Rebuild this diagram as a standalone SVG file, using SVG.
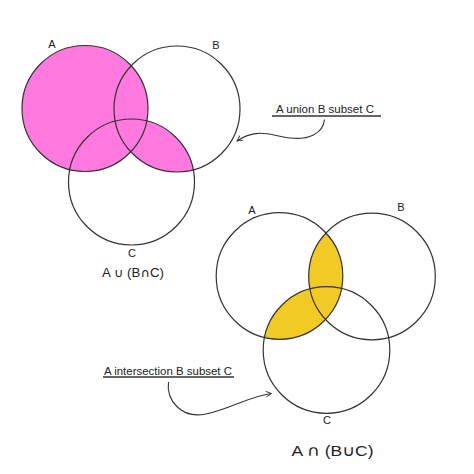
<svg xmlns="http://www.w3.org/2000/svg" width="474" height="474" viewBox="0 0 474 474">
<defs>
<style>
.c{fill:none;stroke:#333;stroke-width:1.2}
.pink{fill:#ff79de}
.yel{fill:#f2ca24}
.lbl{font-family:"Liberation Sans",Arial,sans-serif;fill:#222;text-anchor:middle}
.sym{font-family:"DejaVu Sans",sans-serif}
.conn{fill:none;stroke:#333;stroke-width:1.1}
.ul{stroke:#333;stroke-width:1.3}
</style>
<clipPath id="clipTC"><circle cx="131.5" cy="182" r="63"/></clipPath>
<clipPath id="clipBB"><circle cx="372" cy="276.5" r="63.3"/></clipPath>
<clipPath id="clipBC"><circle cx="326.5" cy="350" r="63.3"/></clipPath>
<marker id="arr" viewBox="0 0 10 10" refX="9" refY="5" markerWidth="7" markerHeight="7" orient="auto" markerUnits="userSpaceOnUse">
<path d="M1,1 L9,5 L1,9" fill="none" stroke="#333" stroke-width="1.3"/>
</marker>
</defs>
<rect width="474" height="474" fill="#fff"/>

<g id="top-venn">
<g id="top-fill">
<circle class="pink" cx="85" cy="108.5" r="63"/>
<circle class="pink" cx="177" cy="109" r="63" clip-path="url(#clipTC)"/>
</g>
<g id="topA"><circle class="c" cx="85" cy="108.5" r="63"/><text class="lbl" x="52" y="48" font-size="11">A</text></g>
<g id="topB"><circle class="c" cx="177" cy="109" r="63"/><text class="lbl" x="216" y="49" font-size="11">B</text></g>
<g id="topC"><circle class="c" cx="131.5" cy="182" r="63"/><text class="lbl" x="132" y="257" font-size="11">C</text></g>
<text class="lbl" x="133" y="277" font-size="12" textLength="62" lengthAdjust="spacingAndGlyphs">A <tspan class="sym">∪</tspan> (B<tspan class="sym">∩</tspan>C)</text>
</g>

<g id="bottom-venn">
<g id="bottom-fill">
<circle class="yel" cx="279.5" cy="276" r="63.3" clip-path="url(#clipBB)"/>
<circle class="yel" cx="279.5" cy="276" r="63.3" clip-path="url(#clipBC)"/>
</g>
<g id="botA"><circle class="c" cx="279.5" cy="276" r="63.3"/><text class="lbl" x="252" y="214" font-size="11">A</text></g>
<g id="botB"><circle class="c" cx="372" cy="276.5" r="63.3"/><text class="lbl" x="401" y="211" font-size="11">B</text></g>
<g id="botC"><circle class="c" cx="326.5" cy="350" r="63.3"/><text class="lbl" x="327" y="424" font-size="11">C</text></g>
<text class="lbl" x="332.5" y="456" font-size="15" textLength="82" lengthAdjust="spacingAndGlyphs">A <tspan class="sym">∩</tspan> (B<tspan class="sym">∪</tspan>C)</text>
</g>

<g id="note-top">
<text class="lbl" x="325" y="113" font-size="10" textLength="98" lengthAdjust="spacingAndGlyphs">A union B subset C</text>
<line class="ul" x1="272" y1="116" x2="381" y2="116"/>
</g>
<g id="note-bottom">
<text class="lbl" x="168" y="375" font-size="10" textLength="128" lengthAdjust="spacingAndGlyphs">A intersection B subset C</text>
<line class="ul" x1="103" y1="377" x2="234" y2="377"/>
</g>

<g id="connectors">
<path class="conn" d="M324.5,119.5 C323,134 308,140 290,138 C272,136 257,127 237,141" marker-end="url(#arr)"/>
<path class="conn" d="M168.5,382 C166,401 182,419 206,414 C230,409 250,396 271.5,393.5" marker-end="url(#arr)"/>
</g>
</svg>
